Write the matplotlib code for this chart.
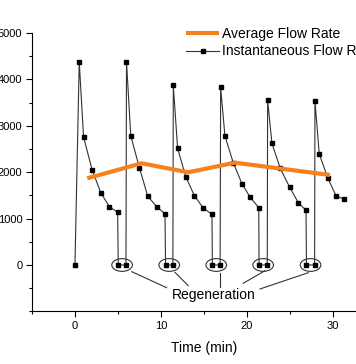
import numpy as np
import matplotlib
matplotlib.use("Agg")
import matplotlib.pyplot as plt
from matplotlib.patches import Ellipse
from matplotlib.ticker import MultipleLocator

plt.rcParams['font.family'] = ['Liberation Sans', 'DejaVu Sans']

# instantaneous flow rate
time_min = [0, 0.5, 1.0, 2.0, 3.0, 4.0, 4.97, 5.04, 5.94,
            6.0, 6.5, 7.5, 8.46, 9.5, 10.48, 10.55, 11.4,
            11.45, 11.95, 12.9, 13.9, 14.94, 15.95, 16.0, 16.9,
            16.96, 17.46, 18.43, 19.44, 20.4, 21.4, 21.43, 22.39,
            22.43, 22.93, 23.9, 25.0, 26.0, 26.9, 26.95, 27.9,
            27.94, 28.44, 29.45, 30.4, 31.35]
flow = [0, 4380, 2760, 2050, 1560, 1260, 1135, 0, 0,
        4380, 2780, 2100, 1490, 1257, 1106, 0, 0,
        3870, 2515, 1905, 1494, 1228, 1092, 0, 0,
        3830, 2780, 2205, 1752, 1459, 1235, 0, 0,
        3556, 2623, 2084, 1674, 1343, 1179, 0, 0,
        3534, 2392, 1870, 1490, 1416]

# average flow rate
avg_time = [1.43, 7.76, 13.19, 18.63, 29.69]
avg_flow = [1868, 2192, 1998, 2205, 1940]

# regeneration callout: where each leader line starts / ends
leader_starts = [(6.62, -144), (11.64, -157), (16.88, -179), (22.12, -123), (27.16, -166)]
leader_ends = [(10.67, -489), (13.19, -446), (16.88, -468), (19.59, -394), (21.54, -517)]

fig = plt.figure(figsize=(3.56, 3.64), dpi=100)
ax = fig.add_axes([32/356, 52.6/364, 343.6/356, 278.4/364])

ax.plot(avg_time, avg_flow, color='#F5821F', lw=3, solid_capstyle='butt',
        label='Average Flow Rate', zorder=3)
ax.plot(time_min, flow, color='#333333', lw=0.8, marker='s', ms=3.5,
        mfc='black', mec='black', label='Instantaneous Flow Rate', zorder=2)

# ellipses around the pairs of zero points
t = np.array(time_min)
f = np.array(flow)
zeros = t[f == 0][1:]
for i in range(0, len(zeros), 2):
    c = (zeros[i] + zeros[i + 1]) / 2
    ax.add_patch(Ellipse((c, 0), 2.4, 275, fill=False, ec='#333333', lw=0.8))

for (x0, y0), (x1, y1) in zip(leader_starts, leader_ends):
    ax.plot([x0, x1], [y0, y1], color='#333333', lw=0.8)
ax.text(16.16, -650, 'Regeneration', ha='center', va='center', fontsize=10)

ax.set_xlim(-5, 35)
ax.set_ylim(-1000, 5000)
ax.set_xticks([0, 10, 20, 30])
ax.set_yticks([0, 1000, 2000, 3000, 4000, 5000])
ax.xaxis.set_minor_locator(MultipleLocator(5))
ax.yaxis.set_minor_locator(MultipleLocator(500))
ax.tick_params(which='major', direction='out', length=4, width=0.8, labelsize=8, pad=3)
ax.tick_params(which='minor', direction='out', length=2.5, width=0.8)
for s in ['top', 'right']:
    ax.spines[s].set_visible(False)
ax.set_xlabel('Time (min)', fontsize=10, labelpad=7)

ax.legend(loc='upper left', bbox_to_anchor=(186/356, 1 - 27/364),
          bbox_transform=fig.transFigure, frameon=False, fontsize=10,
          handlelength=2.4, handletextpad=0.2, labelspacing=0.25,
          borderaxespad=0, borderpad=0)

fig.savefig('out.png', dpi=100)
